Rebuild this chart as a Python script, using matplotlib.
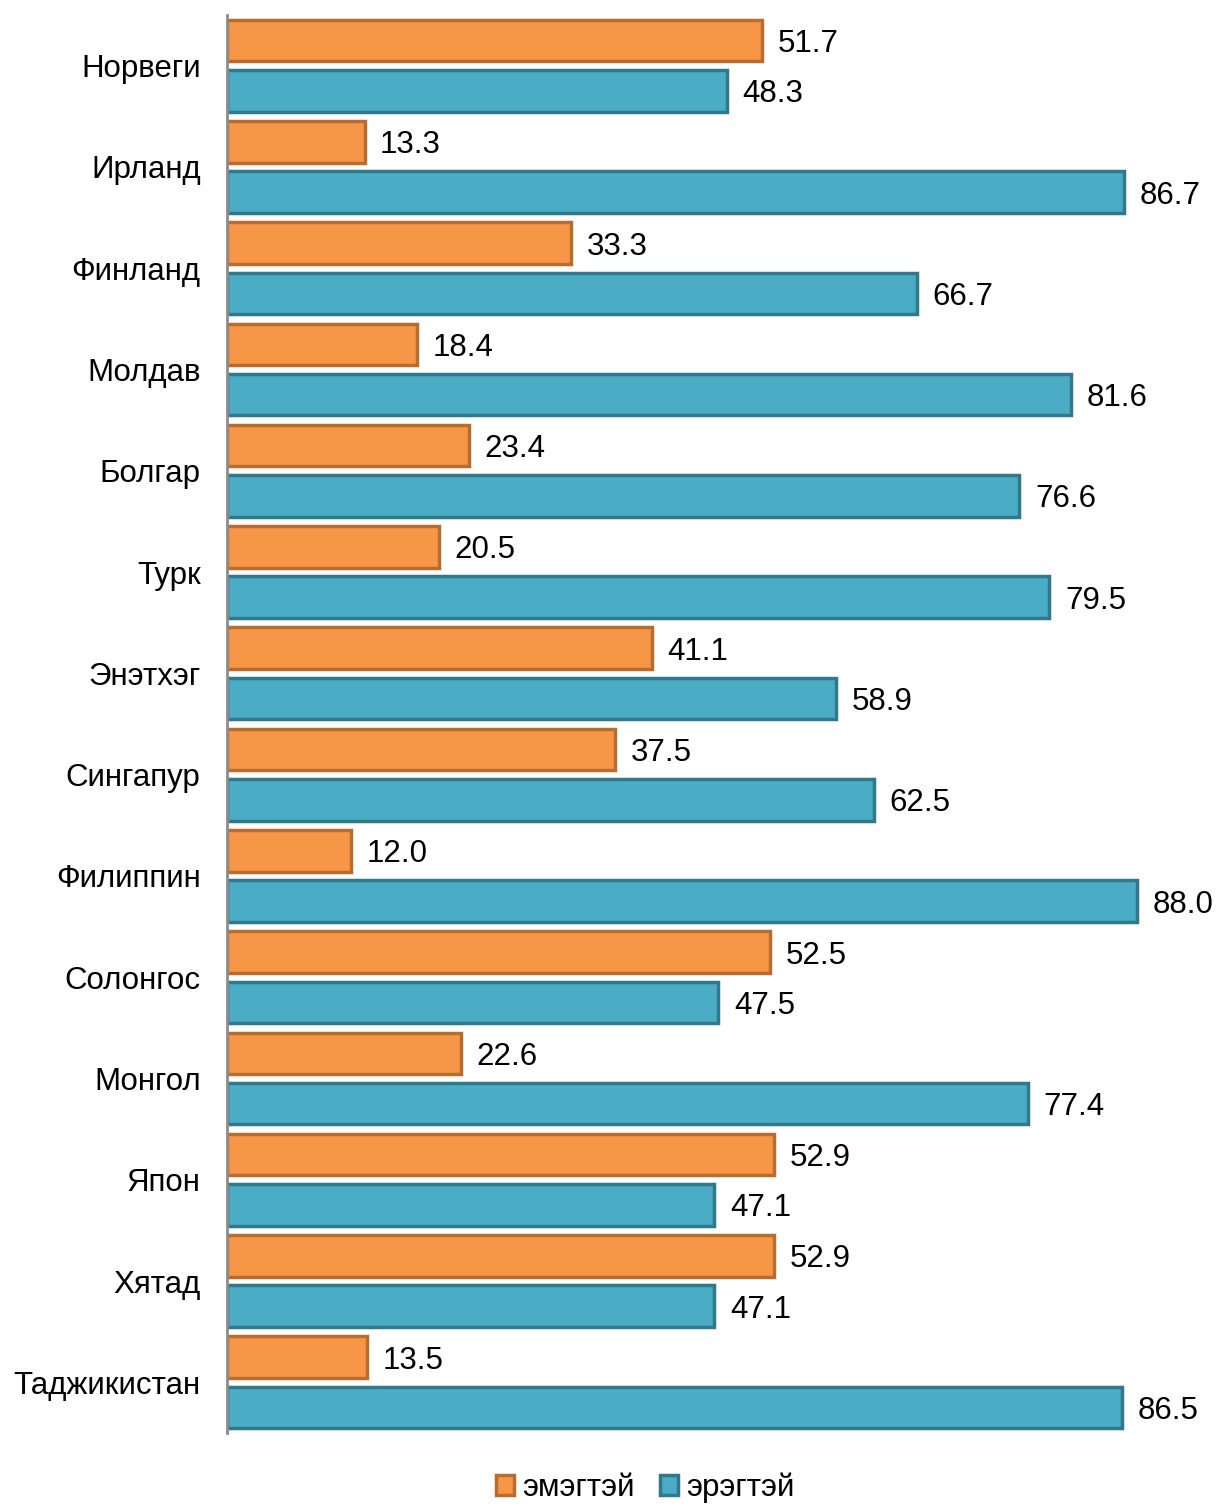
import matplotlib.pyplot as plt
import numpy as np
from matplotlib.patches import Patch

plt.rcParams["font.family"] = ["Liberation Sans", "DejaVu Sans"]

ORANGE = "#f79646"
ORANGE_EDGE = "#b86d30"
BLUE = "#4bacc6"
BLUE_EDGE = "#31788c"
AXIS = "#8c8c8c"
FS = 22.5

countries = ["Норвеги", "Ирланд", "Финланд", "Молдав", "Болгар", "Турк", "Энэтхэг",
             "Сингапур", "Филиппин", "Солонгос", "Монгол", "Япон", "Хятад", "Таджикистан"]
female = [51.7, 13.3, 33.3, 18.4, 23.4, 20.5, 41.1, 37.5, 12.0, 52.5, 22.6, 52.9, 52.9, 13.5]
male = [48.3, 86.7, 66.7, 81.6, 76.6, 79.5, 58.9, 62.5, 88.0, 47.5, 77.4, 47.1, 47.1, 86.5]

fig = plt.figure(figsize=(12.17, 15.06), dpi=100)
ax = fig.add_axes([227 / 1217, 1 - 1433 / 1506, 990 / 1217, 1418 / 1506])

y = np.arange(len(countries))
h = 0.41
ax.barh(y - 0.248, female, height=h, color=ORANGE, edgecolor=ORANGE_EDGE, linewidth=2.5)
ax.barh(y + 0.248, male, height=h, color=BLUE, edgecolor=BLUE_EDGE, linewidth=2.5)

for i in range(len(countries)):
    ax.text(female[i] + 1.5, y[i] - 0.248, f"{female[i]:.1f}", va="center_baseline", ha="left", fontsize=FS)
    ax.text(male[i] + 1.5, y[i] + 0.248, f"{male[i]:.1f}", va="center_baseline", ha="left", fontsize=FS)

ax.set_xlim(0, 95.7)
ax.set_ylim(len(countries) - 0.5, -0.5)
ax.set_yticks(y)
ax.set_yticklabels(countries, fontsize=FS)
ax.tick_params(axis="y", length=0, pad=19)
ax.set_xticks([])
for s in ["top", "right", "bottom"]:
    ax.spines[s].set_visible(False)
ax.spines["left"].set_color(AXIS)
ax.spines["left"].set_linewidth(2)

handles = [Patch(facecolor=ORANGE, edgecolor=ORANGE_EDGE, linewidth=2.5, label="эмэгтэй"),
           Patch(facecolor=BLUE, edgecolor=BLUE_EDGE, linewidth=2.5, label="эрэгтэй")]
fig.legend(handles=handles, loc="center", bbox_to_anchor=(645 / 1217, 1 - 1488 / 1506),
           ncol=2, frameon=False, fontsize=FS, handlelength=0.6, handleheight=0.6,
           handletextpad=0.25, columnspacing=0.8)

fig.savefig("out.png", dpi=100)
